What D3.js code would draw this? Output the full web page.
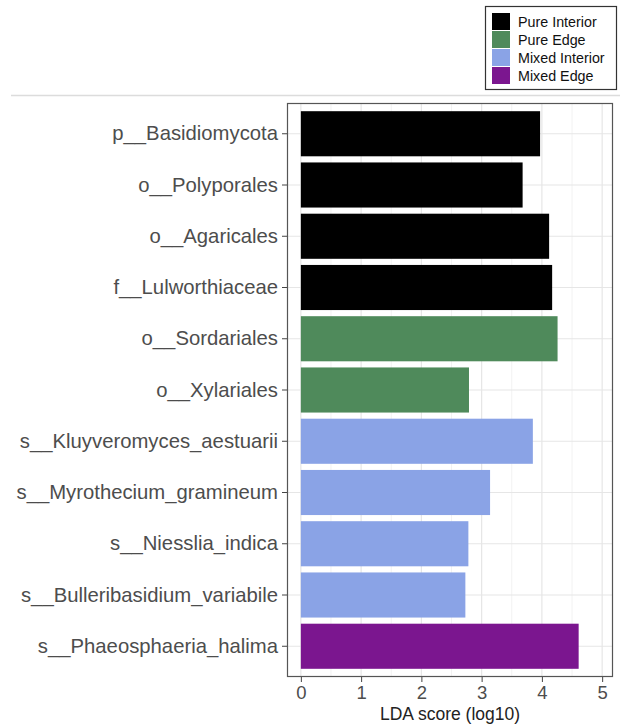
<!DOCTYPE html>
<html>
<head>
<meta charset="utf-8">
<script src="https://cdn.jsdelivr.net/npm/d3@7"></script>
<style>
  body { margin: 0; background: #fff; }
  svg { display: block; font-family: "Liberation Sans", Arial, sans-serif; }
</style>
</head>
<body>
<svg id="chart" width="620" height="726"></svg>
<script>
// LEfSe biomarkers, top to bottom
const taxa = [
  "p__Basidiomycota",
  "o__Polyporales",
  "o__Agaricales",
  "f__Lulworthiaceae",
  "o__Sordariales",
  "o__Xylariales",
  "s__Kluyveromyces_aestuarii",
  "s__Myrothecium_gramineum",
  "s__Niesslia_indica",
  "s__Bulleribasidium_variabile",
  "s__Phaeosphaeria_halima"
];
const ldaScores = [3.97, 3.68, 4.12, 4.17, 4.26, 2.79, 3.85, 3.14, 2.78, 2.73, 4.61];
const groupOf = [
  "Pure Interior", "Pure Interior", "Pure Interior", "Pure Interior",
  "Pure Edge", "Pure Edge",
  "Mixed Interior", "Mixed Interior", "Mixed Interior", "Mixed Interior",
  "Mixed Edge"
];
const groups = ["Pure Interior", "Pure Edge", "Mixed Interior", "Mixed Edge"];
const groupColors = ["#000000", "#4f8a5b", "#8aa3e6", "#7b168f"];
const xTicks = [0, 1, 2, 3, 4, 5];
const xTitle = "LDA score (log10)";

const rows = taxa.map((t, i) => ({ taxon: t, score: ldaScores[i], group: groupOf[i] }));

const svg = d3.select("#chart");
const panel = { left: 287, right: 613, top: 103, bottom: 677 };

const color = d3.scaleOrdinal().domain(groups).range(groupColors);

const x = d3.scaleLinear()
  .domain([-0.23, 5.18])
  .range([panel.left, panel.right]);

const y = d3.scaleBand()
  .domain(taxa)
  .range([panel.top, panel.bottom])
  .paddingInner(0.12)
  .paddingOuter(0.16);

// separator line above the plot
svg.append("line")
  .attr("x1", 11).attr("x2", 620)
  .attr("y1", 95.5).attr("y2", 95.5)
  .attr("stroke", "#dcdcdc").attr("stroke-width", 1.5);

// panel background
svg.append("rect")
  .attr("x", panel.left).attr("y", panel.top)
  .attr("width", panel.right - panel.left)
  .attr("height", panel.bottom - panel.top)
  .attr("fill", "#fff");

const grid = svg.append("g");
// minor vertical grid
d3.range(0.5, 5.5, 1).forEach(v => {
  grid.append("line")
    .attr("x1", x(v)).attr("x2", x(v))
    .attr("y1", panel.top).attr("y2", panel.bottom)
    .attr("stroke", "#f2f2f2").attr("stroke-width", 1);
});
// major vertical grid
xTicks.forEach(v => {
  grid.append("line")
    .attr("x1", x(v)).attr("x2", x(v))
    .attr("y1", panel.top).attr("y2", panel.bottom)
    .attr("stroke", "#e6e6e6").attr("stroke-width", 1.2);
});
// horizontal grid at each category
taxa.forEach(t => {
  const cy = y(t) + y.bandwidth() / 2;
  grid.append("line")
    .attr("x1", panel.left).attr("x2", panel.right)
    .attr("y1", cy).attr("y2", cy)
    .attr("stroke", "#e6e6e6").attr("stroke-width", 1.2);
});

// bars
svg.append("g").selectAll("rect")
  .data(rows)
  .join("rect")
  .attr("x", x(0))
  .attr("y", d => y(d.taxon))
  .attr("width", d => x(d.score) - x(0))
  .attr("height", y.bandwidth())
  .attr("fill", d => color(d.group));

// panel border
svg.append("rect")
  .attr("x", panel.left + 0.5).attr("y", panel.top + 0.5)
  .attr("width", panel.right - panel.left - 1)
  .attr("height", panel.bottom - panel.top - 1)
  .attr("fill", "none").attr("stroke", "#555").attr("stroke-width", 1.2);

// y axis
const yAxis = svg.append("g")
  .attr("transform", `translate(${panel.left},0)`)
  .call(d3.axisLeft(y).tickSize(5).tickPadding(4));
yAxis.select(".domain").remove();
yAxis.selectAll(".tick line").attr("stroke", "#444");
yAxis.selectAll(".tick text")
  .attr("fill", "#4d4d4d")
  .style("font-size", "20.3px")
  .attr("font-family", "Liberation Sans, Arial, sans-serif");

// x axis
const xAxis = svg.append("g")
  .attr("transform", `translate(0,${panel.bottom})`)
  .call(d3.axisBottom(x).tickValues(xTicks).tickFormat(d3.format("d")).tickSize(5).tickPadding(4));
xAxis.select(".domain").remove();
xAxis.selectAll(".tick line").attr("stroke", "#444");
xAxis.selectAll(".tick text")
  .attr("fill", "#4d4d4d")
  .style("font-size", "18.5px")
  .attr("font-family", "Liberation Sans, Arial, sans-serif");

svg.append("text")
  .attr("x", (panel.left + panel.right) / 2)
  .attr("y", 720)
  .attr("text-anchor", "middle")
  .attr("fill", "#222")
  .style("font-size", "17.5px")
  .text(xTitle);

// legend
const legend = svg.append("g");
legend.append("rect")
  .attr("x", 485.5).attr("y", 6.5)
  .attr("width", 131).attr("height", 83)
  .attr("fill", "#fff").attr("stroke", "#333").attr("stroke-width", 1.2);
groups.forEach((g, i) => {
  const ky = 13 + i * 18;
  legend.append("rect")
    .attr("x", 492).attr("y", ky)
    .attr("width", 18).attr("height", 17)
    .attr("fill", color(g));
  legend.append("text")
    .attr("x", 518).attr("y", ky + 14)
    .attr("fill", "#111")
    .style("font-size", "14.3px")
    .text(g);
});
</script>
</body>
</html>
